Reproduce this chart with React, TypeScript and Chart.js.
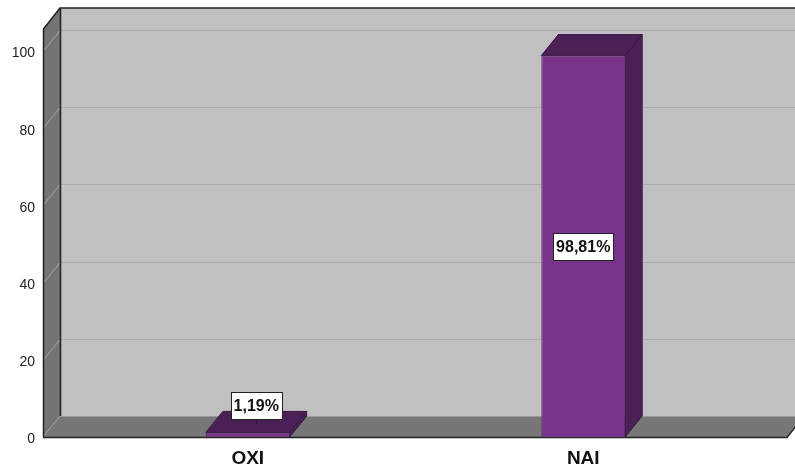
import { useEffect, useRef } from 'react';
import { Chart, registerables } from 'chart.js';

Chart.register(...registerables);

const categories = ['OXI', 'NAI'];
const percentages = [1.19, 98.81];
const valueLabels = ['1,19%', '98,81%'];
const yTickValues = [0, 20, 40, 60, 80, 100];
const yMax = 105.7;

const DX = 17;
const DY = -21;
const WALL_EXT_LEFT = 37;
const WALL_EXT_RIGHT = 36;

const FONT = "'Liberation Sans', Arial, sans-serif";

const threeD = {
  id: 'threeD',
  beforeDatasetsDraw(chart: any) {
    const { ctx, chartArea, scales } = chart;
    const y = scales.y;
    const L = chartArea.left - WALL_EXT_LEFT;
    const R = chartArea.right + WALL_EXT_RIGHT;
    const T = chartArea.top;
    const B = y.getPixelForValue(0);
    ctx.save();
    // back wall
    ctx.fillStyle = '#c0c0c0';
    ctx.fillRect(L + DX, T + DY, R - L + 40, B - T);
    // left wall
    ctx.fillStyle = '#747474';
    ctx.beginPath();
    ctx.moveTo(L, T);
    ctx.lineTo(L + DX, T + DY);
    ctx.lineTo(L + DX, B + DY);
    ctx.lineTo(L, B);
    ctx.closePath();
    ctx.fill();
    // floor
    ctx.fillStyle = '#777777';
    ctx.beginPath();
    ctx.moveTo(L, B);
    ctx.lineTo(R, B);
    ctx.lineTo(R + DX, B + DY);
    ctx.lineTo(L + DX, B + DY);
    ctx.closePath();
    ctx.fill();
    // gridlines
    ctx.lineWidth = 1;
    yTickValues.forEach((v) => {
      if (v === 0) return;
      const py = Math.round(y.getPixelForValue(v)) + 0.5;
      ctx.strokeStyle = '#acacac';
      ctx.beginPath();
      ctx.moveTo(L + DX, py + DY);
      ctx.lineTo(R + DX + 40, py + DY);
      ctx.stroke();
      ctx.strokeStyle = '#a6a6a6';
      ctx.beginPath();
      ctx.moveTo(L, py);
      ctx.lineTo(L + DX, py + DY);
      ctx.stroke();
    });
    // floor/back junction
    ctx.strokeStyle = '#9a9a9a';
    ctx.beginPath();
    ctx.moveTo(L + DX, B + DY + 0.5);
    ctx.lineTo(R + DX + 40, B + DY + 0.5);
    ctx.stroke();
    ctx.beginPath();
    ctx.moveTo(L, B);
    ctx.lineTo(L + DX, B + DY);
    ctx.stroke();
    // edges
    ctx.strokeStyle = '#222';
    ctx.lineWidth = 1.5;
    ctx.beginPath();
    ctx.moveTo(L + 0.5, B);
    ctx.lineTo(L + 0.5, T);
    ctx.lineTo(L + DX, T + DY);
    ctx.lineTo(R + DX + 40, T + DY);
    ctx.moveTo(L + DX + 0.5, T + DY);
    ctx.lineTo(L + DX + 0.5, B + DY);
    ctx.moveTo(L, B + 0.5);
    ctx.lineTo(R, B + 0.5);
    ctx.lineTo(R + DX, B + DY);
    ctx.stroke();

    // bar side and top faces
    const meta = chart.getDatasetMeta(0);
    meta.data.forEach((bar: any) => {
      const { x, y: top, base, width } = bar.getProps(['x', 'y', 'base', 'width'], true);
      const left = x - width / 2;
      const right = x + width / 2;
      ctx.fillStyle = '#4a2056';
      ctx.strokeStyle = '#3a1545';
      ctx.lineWidth = 1;
      ctx.beginPath();
      ctx.moveTo(right, top);
      ctx.lineTo(right + DX, top + DY);
      ctx.lineTo(right + DX, base + DY);
      ctx.lineTo(right, base);
      ctx.closePath();
      ctx.fill();
      ctx.stroke();
      ctx.beginPath();
      ctx.moveTo(left, top);
      ctx.lineTo(left + DX, top + DY);
      ctx.lineTo(right + DX, top + DY);
      ctx.lineTo(right, top);
      ctx.closePath();
      ctx.fill();
      ctx.stroke();
    });
    ctx.restore();
  },
  afterDatasetsDraw(chart: any) {
    const { ctx } = chart;
    const meta = chart.getDatasetMeta(0);
    ctx.save();
    ctx.font = `bold 16px ${FONT}`;
    ctx.textAlign = 'center';
    ctx.textBaseline = 'middle';
    meta.data.forEach((bar: any, i: number) => {
      const { x, y: top, base } = bar.getProps(['x', 'y', 'base'], true);
      const text = valueLabels[i];
      const w = ctx.measureText(text).width + 6;
      const h = 27;
      let cx: number;
      let cy: number;
      if (base - top > h + 10) {
        cx = x;
        cy = (top + base) / 2;
      } else {
        const ax = x + DX / 2;
        const ay = top + DY / 2;
        ctx.strokeStyle = '#222';
        ctx.lineWidth = 1;
        ctx.beginPath();
        ctx.moveTo(ax + 0.5, ay + 2);
        ctx.lineTo(ax, ay - 3);
        ctx.stroke();
        cx = ax;
        cy = ay - 3 - h / 2;
      }
      const bx = Math.round(cx - w / 2) + 0.5;
      const by = Math.round(cy - h / 2) + 0.5;
      ctx.fillStyle = '#ffffff';
      ctx.fillRect(bx, by, Math.round(w), h);
      ctx.strokeStyle = '#222';
      ctx.lineWidth = 1;
      ctx.strokeRect(bx, by, Math.round(w), h);
      ctx.fillStyle = '#111';
      ctx.fillText(text, cx, cy + 1);
    });
    ctx.restore();
  },
};

export default function App() {
  const ref = useRef<HTMLCanvasElement>(null);
  useEffect(() => {
    document.body.style.margin = '0';
    const chart = new Chart(ref.current as HTMLCanvasElement, {
      type: 'bar',
      data: {
        labels: categories,
        datasets: [
          {
            data: percentages,
            backgroundColor: '#77348a',
            borderColor: '#5a2a66',
            borderWidth: 1,
            categoryPercentage: 1,
            barPercentage: 0.25,
          },
        ],
      },
      options: {
        animation: false,
        responsive: false,
        devicePixelRatio: 1,
        layout: { padding: { top: 29, right: 44, left: 0, bottom: 0 } },
        plugins: { legend: { display: false }, tooltip: { enabled: false } },
        scales: {
          x: {
            grid: { display: false, drawTicks: false },
            border: { display: false },
            ticks: {
              font: { family: FONT, size: 19, weight: 'bold' },
              color: '#111',
              padding: 10,
            },
            afterFit: (s: any) => {
              s.height = 35;
            },
          },
          y: {
            min: 0,
            max: yMax,
            grid: { display: false, drawTicks: false },
            border: { display: false },
            ticks: {
              font: { family: FONT, size: 14 },
              color: '#222',
              padding: 45,
              labelOffset: 2.5,
            },
            afterBuildTicks: (s: any) => {
              s.ticks = yTickValues.map((v) => ({ value: v }));
            },
            afterFit: (s: any) => {
              s.width = 80;
              s.paddingTop = 8;
              s.paddingBottom = 8;
            },
          },
        },
      },
      plugins: [threeD],
    } as any);
    return () => chart.destroy();
  }, []);
  return <canvas ref={ref} width={795} height={472} />;
}
